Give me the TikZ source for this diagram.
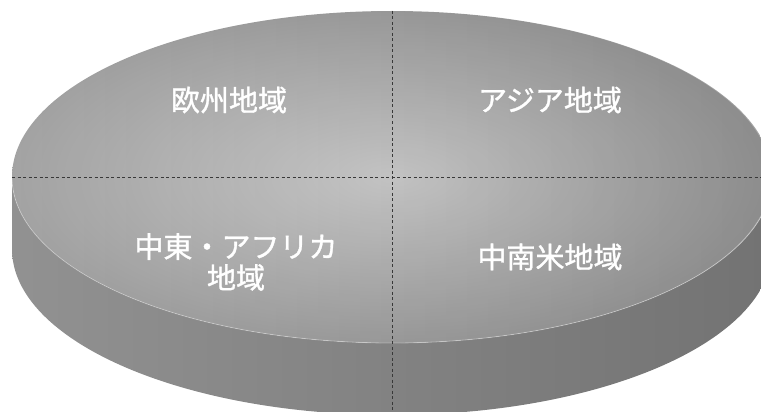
\documentclass[tikz,border=0pt]{standalone}
\usepackage{fontspec}
\newfontfamily\jpfont[FakeBold=1.2]{Noto Sans CJK JP}
\usetikzlibrary{fadings}

\begin{document}
\begin{tikzpicture}[x=1pt, y=1pt,
        regionlabel/.style={text=white, font=\jpfont\fontsize{29}{31}\selectfont, align=center, inner sep=0pt},
        divider/.style={draw=black!78, dash pattern=on 3pt off 2.5pt, line width=0.8pt}]
    \useasboundingbox (0,0) rectangle (761,-412);
    \clip (0,0) rectangle (761,-412);
    % side of the disc
    \shade[left color=black!43, right color=black!55]
        (12,-177) -- (12,-249) arc[start angle=180, end angle=360, x radius=380, y radius=166]
        -- (772,-177) arc[start angle=0, end angle=-180, x radius=380, y radius=166] -- cycle;
    % top face
    \shade[inner color=black!18, outer color=black!36] (392,-177) ellipse[x radius=380, y radius=166];
    \fill[black, opacity=0.14, path fading=west] (392,-177) ellipse[x radius=380, y radius=166];
    \draw[white, opacity=0.35, line width=0.8pt] (12,-177) arc[start angle=180, end angle=360, x radius=380, y radius=166];
    % dividers
    \coordinate (top) at (392,-11);
    \coordinate (bottom) at (392,-412);
    \coordinate (left) at (12,-177);
    \coordinate (right) at (761,-177);
    \draw[divider] (top) -- (bottom);
    \draw[divider] (left) -- (right);
    % regions
    \node[regionlabel] (europe) at (229,-100) {欧州地域};
    \node[regionlabel] (asia) at (550,-100) {アジア地域};
    \node[regionlabel] (mideast) at (236,-262) {中東・アフリカ\\地域};
    \node[regionlabel] (latam) at (550,-257) {中南米地域};
\end{tikzpicture}
\end{document}
